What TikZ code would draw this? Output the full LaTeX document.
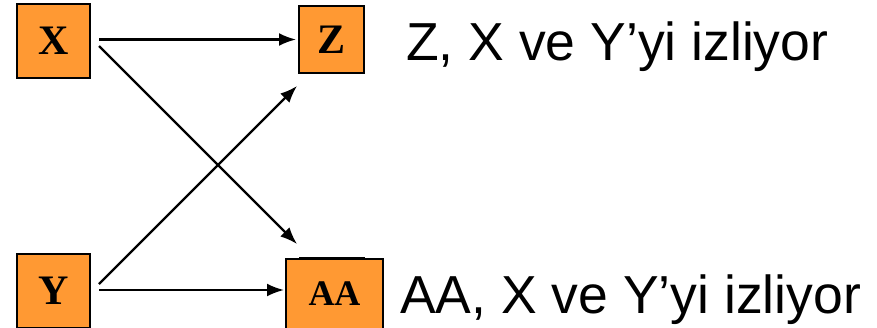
\documentclass[tikz,border=0pt]{standalone}
\usepackage{fontspec}
\setmainfont{Liberation Serif}
\newfontfamily\labelfont{Liberation Sans}
\usetikzlibrary{arrows.meta,calc}
\definecolor{boxorange}{RGB}{255,153,51}
\definecolor{darkteal}{RGB}{0,80,80}
\tikzset{
  varbox/.style={draw=black, line width=2pt, fill=boxorange, inner sep=0pt,
    font=\bfseries\fontsize{42}{42}\selectfont},
  link/.style={line width=2.2pt, -{Latex[length=17pt,width=13pt]}},
  caption/.style={anchor=base west, inner sep=0pt,
    font=\labelfont\fontsize{53.5}{54}\selectfont}
}
\begin{document}
\begin{tikzpicture}[x=1pt,y=-1pt]
  \useasboundingbox (0,0) rectangle (877,327);
  % variable boxes
  \node[varbox, minimum width=73pt, minimum height=74pt] (X) at (53.5,41) {X};
  \node[varbox, minimum width=65pt, minimum height=67pt] (Z) at (331.5,39.5) {Z};
  \node[varbox, minimum width=73pt, minimum height=74pt] (Y) at (53.5,291) {Y};
  % thin bar peeking above the AA box
  \fill[darkteal, draw=black, line width=0.8pt] (299,257.5) rectangle (364,262);
  \node[varbox, minimum width=97pt, minimum height=70pt,
    font=\bfseries\fontsize{36}{36}\selectfont] (AA) at (334.5,294) {AA};
  % dependencies
  \draw[link] ($(X.east)+(8,-1.5)$) -- ($(Z.west)+(-2,0)$);
  \draw[link] ($(X.east)+(8,5)$) -- ($(AA.north west)+(12,-14)$);
  \draw[link] ($(Y.east)+(8,-7)$) -- ($(Z.south west)+(-1,12)$);
  \draw[link] ($(Y.east)+(8,-1)$) -- ($(AA.west)+(-1,-4)$);
  % captions
  \node[caption] (zc) at (406,60) {Z, X ve Y’yi izliyor};
  \node[caption] (ac) at (400,313) {AA, X ve Y’yi izliyor};
\end{tikzpicture}
\end{document}
